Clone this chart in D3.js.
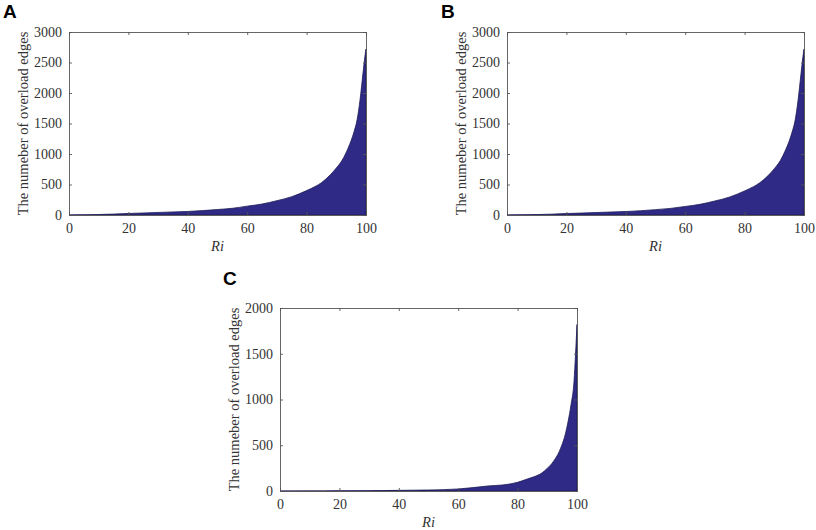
<!DOCTYPE html>
<html>
<head>
<meta charset="utf-8">
<script src="https://cdn.jsdelivr.net/npm/d3@7"></script>
<style>
  body { margin: 0; background: #fff; }
  svg { display: block; }
  .tick-label { font-family: "Liberation Serif", "Times New Roman", serif; font-size: 14px; fill: #333; }
  .axis-title { font-family: "Liberation Serif", "Times New Roman", serif; font-size: 14.5px; fill: #333; }
  .panel-label { font-family: "Liberation Sans", Arial, sans-serif; font-size: 19px; font-weight: bold; fill: #000; }
</style>
</head>
<body>
<svg id="chart" width="816" height="530"></svg>
<script>
// Ri positions where the curves were read
var ri = [0, 5, 10, 15, 20, 25, 30, 35, 40, 45, 50, 55, 60, 65, 70, 75, 80, 83, 85, 88, 90, 92, 94, 95, 96, 97, 98, 99, 99.5, 100];
// overload edges, panel A
var edges_a = [0, 3, 8, 15, 25, 33, 42, 50, 58, 72, 90, 110, 145, 180, 235, 300, 400, 470, 530, 660, 770, 900, 1100, 1220, 1370, 1560, 1890, 2330, 2550, 2720];
// panel B
var edges_b = [0, 3, 7, 14, 24, 32, 40, 49, 57, 70, 88, 108, 140, 175, 230, 295, 395, 465, 525, 650, 760, 890, 1090, 1210, 1360, 1550, 1880, 2320, 2540, 2720];
// panel C
var edges_c = [0, 0, 1, 1, 2, 3, 4, 5, 7, 9, 11, 15, 22, 37, 55, 66, 95, 128, 150, 193, 248, 321, 430, 510, 613, 760, 945, 1200, 1490, 1820];

var x_ticks = [0, 20, 40, 60, 80, 100];
var y_ticks_ab = [0, 500, 1000, 1500, 2000, 2500, 3000];
var y_ticks_c = [0, 500, 1000, 1500, 2000];

var panels = [
    { label: 'A', values: edges_a, ymax: 3000, yticks: y_ticks_ab, left: 69, top: 32 },
    { label: 'B', values: edges_b, ymax: 3000, yticks: y_ticks_ab, left: 507, top: 32 },
    { label: 'C', values: edges_c, ymax: 2000, yticks: y_ticks_c, left: 280, top: 308 }
];
var plot_w = 297, plot_h = 183;
var svg = d3.select('#chart');
var fmt = d3.format('d');

function draw_panel(p) {
    var g = svg.append('g').attr('transform', 'translate(' + p.left + ',' + p.top + ')');
    var x = d3.scaleLinear().domain([0, 100]).range([0, plot_w]);
    var y = d3.scaleLinear().domain([0, p.ymax]).range([plot_h, 0]);
    var pts = ri.map(function (r, i) { return [r, p.values[i]]; });

    var area = d3.area()
        .curve(d3.curveMonotoneX)
        .x(function (d) { return x(d[0]); })
        .y0(y(0))
        .y1(function (d) { return y(d[1]); });
    g.append('path')
        .datum(pts)
        .attr('d', area)
        .attr('fill', '#2e2a86')
        .attr('stroke', '#1c1a55')
        .attr('stroke-width', 0.8);

    // Matlab style box with inward ticks on every side
    var gx = g.append('g').attr('transform', 'translate(0,' + plot_h + ')')
        .call(d3.axisBottom(x).tickValues(x_ticks).tickSize(-3).tickPadding(8).tickFormat(fmt));
    var gy = g.append('g')
        .call(d3.axisLeft(y).tickValues(p.yticks).tickSize(-3).tickPadding(7).tickFormat(fmt));
    var gt = g.append('g').call(d3.axisTop(x).tickValues(x_ticks).tickSize(-3).tickFormat(''));
    var gr = g.append('g').attr('transform', 'translate(' + plot_w + ',0)')
        .call(d3.axisRight(y).tickValues(p.yticks).tickSize(-3).tickFormat(''));
    [gx, gy, gt, gr].forEach(function (a) {
        a.attr('font-size', null).attr('font-family', null);
        a.select('.domain').attr('stroke', '#555').attr('stroke-width', 0.9);
        a.selectAll('.tick line').attr('stroke', '#555').attr('stroke-width', 0.9);
        a.selectAll('.tick text').attr('class', 'tick-label');
    });

    g.append('text')
        .attr('class', 'axis-title')
        .attr('transform', 'translate(-41,' + (plot_h / 2) + ') rotate(-90)')
        .attr('text-anchor', 'middle')
        .text('The numeber of overload edges');
    g.append('text')
        .attr('class', 'axis-title')
        .attr('x', plot_w / 2)
        .attr('y', plot_h + 36)
        .attr('text-anchor', 'middle')
        .style('font-style', 'italic')
        .text('Ri');
    g.append('text')
        .attr('class', 'panel-label')
        .attr('x', p.label == 'C' ? -57 : -66)
        .attr('y', p.label == 'C' ? -23 : -14)
        .text(p.label);
}
panels.forEach(draw_panel);
</script>
</body>
</html>
